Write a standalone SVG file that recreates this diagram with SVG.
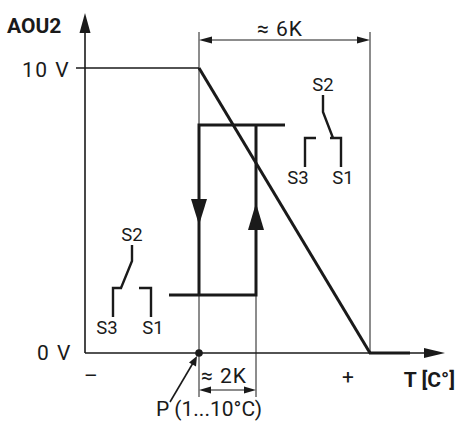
<svg xmlns="http://www.w3.org/2000/svg" width="457" height="422" viewBox="0 0 457 422">
<defs>
<style>
text{font-family:Roboto,"Liberation Sans",sans-serif;fill:#1a1a1a;font-size:21px}
.b{font-weight:bold}
.s{font-size:18.5px}
.thin{stroke:#1a1a1a;stroke-width:1;fill:none}
.ax{stroke:#1a1a1a;stroke-width:1.6;fill:none}
.th{stroke:#1a1a1a;stroke-width:3;fill:none}
.sw{stroke:#1a1a1a;stroke-width:2.4;fill:none}
.ah{fill:#1a1a1a}
</style>
</defs>
<rect width="457" height="422" fill="#fff"/>
<g id="connectors">
<line class="ax" x1="85" y1="353" x2="85" y2="30"/>
<polygon class="ah" points="85,13 79.5,33 90.5,33"/>
<line class="ax" x1="85" y1="353" x2="428" y2="353"/>
<polygon class="ah" points="445,353 424,348 424,358"/>
<line class="th" x1="369" y1="353" x2="410" y2="353"/>
<line class="ax" x1="76" y1="68" x2="199" y2="68"/>
<line class="thin" x1="199" y1="32" x2="199" y2="397"/>
<line class="thin" x1="370" y1="32" x2="370" y2="353"/>
<line class="thin" x1="256" y1="295" x2="256" y2="397"/>
<line class="thin" x1="210" y1="40" x2="359" y2="40"/>
<polygon class="ah" points="199,40 212,36.5 212,43.5"/>
<polygon class="ah" points="370,40 357,36.5 357,43.5"/>
<line class="thin" x1="208" y1="390" x2="247" y2="390"/>
<polygon class="ah" points="199,390 211,386.5 211,393.5"/>
<polygon class="ah" points="256,390 244,386.5 244,393.5"/>
<line class="th" x1="199" y1="68" x2="370" y2="353"/>
<polyline class="th" points="285,125 199,125 199,295"/>
<polyline class="th" points="256,125 256,295 169,295"/>
<polygon class="ah" points="191,199 207,199 199,225"/>
<polygon class="ah" points="248,230 264,230 256,203"/>
<circle class="ah" cx="199" cy="353" r="3.8"/>
<line class="ax" x1="170" y1="402" x2="193" y2="363"/>
<polygon class="ah" points="197,356 189,362.5 196,366.5"/>
</g>
<g id="switch-left">
<polyline class="sw" points="132,245 132,261 121,288"/>
<polyline class="sw" points="113,317 113,288 122,288"/>
<polyline class="sw" points="139,288 151,288 151,317"/>
<text class="s" x="132" y="241" text-anchor="middle">S2</text>
<text class="s" x="107" y="334" text-anchor="middle">S3</text>
<text class="s" x="153" y="334" text-anchor="middle">S1</text>
</g>
<g id="switch-right">
<polyline class="sw" points="323,95 323,112 333,138"/>
<polyline class="sw" points="305,167 305,138 316,138"/>
<polyline class="sw" points="330,138 341,138 341,167"/>
<text class="s" x="323" y="91" text-anchor="middle">S2</text>
<text class="s" x="298" y="184" text-anchor="middle">S3</text>
<text class="s" x="343" y="184" text-anchor="middle">S1</text>
</g>
<g id="labels">
<text class="b" x="7" y="33" font-size="27.5">AOU2</text>
<text x="22" y="77" font-size="23" letter-spacing="1.5">10 V</text>
<text x="37" y="360" font-size="23" letter-spacing="1.5">0 V</text>
<text x="91" y="383" text-anchor="middle">–</text>
<text x="348" y="384" text-anchor="middle">+</text>
<text class="b" x="455" y="387" text-anchor="end" font-size="26">T [C°]</text>
<text x="257" y="36" font-size="21" letter-spacing="1">≈ 6K</text>
<text x="201" y="383" font-size="21" letter-spacing="1">≈ 2K</text>
<text x="209" y="416" text-anchor="middle" font-size="18.5">P (1...10°C)</text>
</g>
</svg>
